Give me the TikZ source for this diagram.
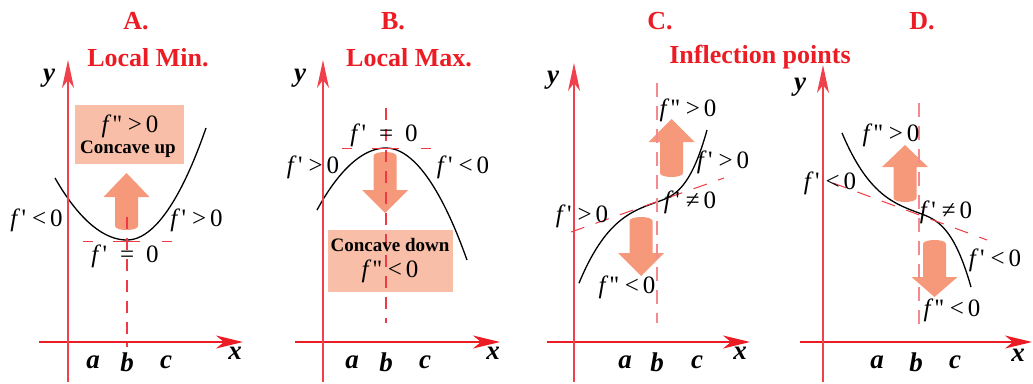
\documentclass[tikz,border=0pt]{standalone}
\usepackage{fontspec}
\setmainfont{Liberation Serif}
\usetikzlibrary{arrows.meta}
\definecolor{axred}{HTML}{EC1C24}
\definecolor{yred}{HTML}{F0404C}
\definecolor{dashred}{HTML}{EE3A44}
\definecolor{pinkdash}{HTML}{F28A90}
\definecolor{arrowfill}{HTML}{F6987A}
\definecolor{boxfill}{HTML}{F9BEA7}
\newcommand{\myfp}{\textit{f}\hspace{1.5pt}\textquotesingle}
\newcommand{\myfpp}{\textit{f}\hspace{1.5pt}\textquotesingle\textquotesingle}
\newcommand{\mylt}{\hspace{6pt}<\hspace{4pt}0}
\newcommand{\mygt}{\hspace{6pt}>\hspace{4pt}0}
\newcommand{\myne}{\hspace{6pt}≠\hspace{4pt}0}
\newcommand{\myeqz}{\hspace{13pt}=\hspace{12pt}0}
% up / down block arrows: {cx}{y body end (rounded)}{y body/head joint}{y tip}
\newcommand{\uparr}[4]{\fill[arrowfill] ({#1-11.5},#3) -- ({#1-23},#3) -- (#1,#4) -- ({#1+23},#3) -- ({#1+11.5},#3) -- ({#1+11.5},{#2-4}) .. controls ({#1+11.5},{#2+1.3}) and ({#1-11.5},{#2+1.3}) .. ({#1-11.5},{#2-4}) -- cycle;}
\newcommand{\downarr}[4]{\fill[arrowfill] ({#1-11.5},#3) -- ({#1-23},#3) -- (#1,#4) -- ({#1+23},#3) -- ({#1+11.5},#3) -- ({#1+11.5},{#2+4}) .. controls ({#1+11.5},{#2-1.3}) and ({#1-11.5},{#2-1.3}) .. ({#1-11.5},{#2+4}) -- cycle;}
\tikzset{
  title/.style={text=axred, font=\fontsize{26}{28}\selectfont\bfseries, inner sep=0pt},
  lab/.style={font=\fontsize{25}{27}\selectfont, inner sep=0pt},
  axlab/.style={font=\fontsize{27}{28}\selectfont\bfseries\itshape, inner sep=0pt},
  boxtxt/.style={font=\fontsize{19}{21}\selectfont\bfseries, inner sep=0pt},
  boxrect/.style={fill=boxfill, draw=none, inner sep=0pt},
  xaxis/.style={draw=axred, line width=1.3pt, -{Stealth[length=27pt,width=13pt,inset=8pt]}},
  yaxis/.style={draw=yred, line width=1.5pt, -{Stealth[length=28pt,width=12pt,inset=8pt]}},
  curve/.style={draw=black, line width=1.3pt},
  vdash/.style={draw=dashred, line width=1.1pt, dash pattern=on 12pt off 9pt},
  vpink/.style={draw=pinkdash, line width=1.3pt, dash pattern=on 14pt off 9pt},
  tdash/.style={draw=dashred, line width=1pt, dash pattern=on 10pt off 20pt on 27pt off 22pt on 10pt off 40pt},
  sdash/.style={draw=dashred, line width=1pt, dash pattern=on 14pt off 12pt},
}
\begin{document}
\begin{tikzpicture}[x=1pt,y=-1pt]
\useasboundingbox (0,0) rectangle (1033,383);

% ---------------- Panel A ----------------
\node[boxrect, minimum width=109pt, minimum height=59pt] (Abox) at (129.5,134.5) {};
\uparr{126.5}{230}{197}{173}
\draw[curve] (55,178) parabola bend (127,240) (206,128);
\coordinate (Ata) at (83,241); \coordinate (Atb) at (172,241);
\draw[tdash] (Ata) -- (Atb);
\coordinate (Ava) at (127,217); \coordinate (Avb) at (127,347);
\draw[vdash] (Ava) -- (Avb);
\coordinate (Axs) at (39,342); \coordinate (Axe) at (243,342);
\coordinate (Ays) at (68,382); \coordinate (Aye) at (68,60);
\draw[xaxis] (Axs) -- (Axe);
\draw[yaxis] (Ays) -- (Aye);
\node[title] (Atit) at (136,21) {A.};
\node[title] (Asub) at (148,58) {Local Min.};
\node[lab] (Abox1) at (130,126) {\myfpp\mygt};
\node[boxtxt] (Abox2) at (128,149) {Concave up};
\node[lab] (Al1) at (36.5,220) {\myfp\mylt};
\node[lab] (Al2) at (196.5,220) {\myfp\mygt};
\node[lab] (Al3) at (125,256) {\myfp\myeqz};
\node[axlab] (Ay) at (49,78) {y};
\node[axlab] (Ax) at (235,353) {x};
\node[axlab] (Aa) at (93,362) {a};
\node[axlab] (Ab) at (127,362) {b};
\node[axlab] (Ac) at (166,362) {c};

% ---------------- Panel B ----------------
\node[boxrect, minimum width=125pt, minimum height=62pt] (Bbox) at (390.5,261) {};
\downarr{385}{152}{190}{213}
\draw[curve] (317,210) parabola bend (386,148) (467,260);
\coordinate (Bta) at (342,148); \coordinate (Btb) at (432,148);
\draw[tdash] (Bta) -- (Btb);
\coordinate (Bva) at (386,108); \coordinate (Bvb) at (386,323);
\draw[vdash] (Bva) -- (Bvb);
\coordinate (Bxs) at (295,342); \coordinate (Bxe) at (500,342);
\coordinate (Bys) at (323,382); \coordinate (Bye) at (323,60);
\draw[xaxis] (Bxs) -- (Bxe);
\draw[yaxis] (Bys) -- (Bye);
\node[title] (Btit) at (393,21) {B.};
\node[title] (Bsub) at (409,58) {Local Max.};
\node[boxtxt] (Bbox1) at (390,245) {Concave down};
\node[lab] (Bbox2) at (390,271) {\myfpp\mylt};
\node[lab] (Bl1) at (384,135) {\myfp\myeqz};
\node[lab] (Bl2) at (313,167) {\myfp\mygt};
\node[lab] (Bl3) at (463,167) {\myfp\mylt};
\node[axlab] (By) at (300,78) {y};
\node[axlab] (Bx) at (493,353) {x};
\node[axlab] (Ba) at (352,362) {a};
\node[axlab] (Bb) at (386,362) {b};
\node[axlab] (Bc) at (425,362) {c};

% ---------------- Panel C ----------------
\uparr{671.5}{177}{142}{119}
\downarr{641}{217}{253}{276}
\draw[curve] plot[domain=-7.8:0, samples=40, smooth] ({657+10*\x},{202-3.53*\x-0.113*\x*\x*\x})
  -- plot[domain=0:5, samples=30, smooth] ({657+10*\x},{202-3.53*\x-0.435*\x*\x*\x});
\coordinate (Cta) at (571,232); \coordinate (Ctb) at (724,178);
\draw[sdash] (Cta) -- (Ctb);
\coordinate (Cva) at (657,83); \coordinate (Cvb) at (657,323);
\draw[vpink] (Cva) -- (Cvb);
\coordinate (Cxs) at (547,342); \coordinate (Cxe) at (750,342);
\coordinate (Cys) at (574,382); \coordinate (Cye) at (574,63);
\draw[xaxis] (Cxs) -- (Cxe);
\draw[yaxis] (Cys) -- (Cye);
\node[title] (Ctit) at (660,21) {C.};
\node[title] (Csub) at (760,57) {Inflection points};
\node[lab] (Cl1) at (688,110) {\myfpp\mygt};
\node[lab] (Cl2) at (723,162) {\myfp\mygt};
\node[lab] (Cl3) at (690,202) {\myfp\myne};
\node[lab] (Cl4) at (582,216) {\myfp\mygt};
\node[lab] (Cl5) at (627,287) {\myfpp\mylt};
\node[axlab] (Cy) at (553,80) {y};
\node[axlab] (Cx) at (740,353) {x};
\node[axlab] (Ca) at (625,362) {a};
\node[axlab] (Cb) at (657,362) {b};
\node[axlab] (Cc) at (697,362) {c};

% ---------------- Panel D ----------------
\uparr{905}{202}{167}{145}
\downarr{934.5}{240}{277}{297}
\draw[curve] plot[domain=-7.7:0, samples=40, smooth] ({919+10*\x},{213+3.7*\x+0.113*\x*\x*\x})
  -- plot[domain=0:5.2, samples=30, smooth] ({919+10*\x},{213+3.7*\x+0.39*\x*\x*\x});
\coordinate (Dta) at (833,183); \coordinate (Dtb) at (987,240);
\draw[sdash] (Dta) -- (Dtb);
\coordinate (Dva) at (919,103); \coordinate (Dvb) at (919,328);
\draw[vpink] (Dva) -- (Dvb);
\coordinate (Dxs) at (800,342); \coordinate (Dxe) at (1032,342);
\coordinate (Dys) at (823,382); \coordinate (Dye) at (823,65);
\draw[xaxis] (Dxs) -- (Dxe);
\draw[yaxis] (Dys) -- (Dye);
\node[title] (Dtit) at (922,21) {D.};
\node[lab] (Dl1) at (891,135) {\myfpp\mygt};
\node[lab] (Dl2) at (830,183) {\myfp\mylt};
\node[lab] (Dl3) at (946,212) {\myfp\myne};
\node[lab] (Dl4) at (995,260) {\myfp\mylt};
\node[lab] (Dl5) at (952,310) {\myfpp\mylt};
\node[axlab] (Dy) at (800,87) {y};
\node[axlab] (Dx) at (1018,355) {x};
\node[axlab] (Da) at (877,362) {a};
\node[axlab] (Db) at (916,362) {b};
\node[axlab] (Dc) at (955,362) {c};
\end{tikzpicture}
\end{document}
